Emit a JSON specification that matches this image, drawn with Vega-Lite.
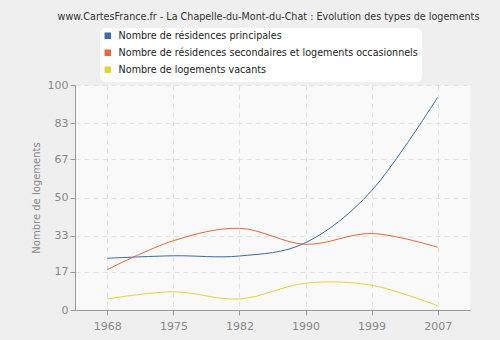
{
  "$schema": "https://vega.github.io/schema/vega-lite/v6.json",
  "autosize": "none",
  "width": 395,
  "height": 225,
  "padding": {"left": 75, "top": 85, "right": 30, "bottom": 30},
  "background": "#efefef",
  "title": {
    "text": "www.CartesFrance.fr - La Chapelle-du-Mont-du-Chat : Evolution des types de logements",
    "anchor": "middle",
    "font": "DejaVu Sans",
    "fontSize": 9.6,
    "fontWeight": "normal",
    "color": "#333333",
    "frame": "group",
    "offset": 6,
    "dx": -4
  },
  "config": {
    "view": {"fill": "#f9f9f9", "stroke": null},
    "font": "DejaVu Sans"
  },
  "data": {
    "values": [
      {"year": "1968", "serie": "Nombre de résidences principales", "value": 23},
      {"year": "1975", "serie": "Nombre de résidences principales", "value": 24.1},
      {"year": "1982", "serie": "Nombre de résidences principales", "value": 24},
      {"year": "1990", "serie": "Nombre de résidences principales", "value": 29.9},
      {"year": "1999", "serie": "Nombre de résidences principales", "value": 53},
      {"year": "2007", "serie": "Nombre de résidences principales", "value": 94.5},
      {"year": "1968", "serie": "Nombre de résidences secondaires et logements occasionnels", "value": 18},
      {"year": "1975", "serie": "Nombre de résidences secondaires et logements occasionnels", "value": 30.8},
      {"year": "1982", "serie": "Nombre de résidences secondaires et logements occasionnels", "value": 36.3},
      {"year": "1990", "serie": "Nombre de résidences secondaires et logements occasionnels", "value": 29.2},
      {"year": "1999", "serie": "Nombre de résidences secondaires et logements occasionnels", "value": 34},
      {"year": "2007", "serie": "Nombre de résidences secondaires et logements occasionnels", "value": 27.9},
      {"year": "1968", "serie": "Nombre de logements vacants", "value": 4.9},
      {"year": "1975", "serie": "Nombre de logements vacants", "value": 8.1},
      {"year": "1982", "serie": "Nombre de logements vacants", "value": 4.9},
      {"year": "1990", "serie": "Nombre de logements vacants", "value": 11.9},
      {"year": "1999", "serie": "Nombre de logements vacants", "value": 11},
      {"year": "2007", "serie": "Nombre de logements vacants", "value": 1.9}
    ]
  },
  "mark": {"type": "line", "interpolate": "cardinal", "strokeWidth": 1},
  "encoding": {
    "x": {
      "field": "year",
      "type": "ordinal",
      "scale": {"type": "point", "padding": 0.49},
      "axis": {
        "title": null,
        "labelAngle": 0,
        "labelColor": "#888888",
        "labelFontSize": 11,
        "labelPadding": 5,
        "domainColor": "#999999",
        "tickColor": "#999999",
        "tickSize": 5,
        "grid": true,
        "gridColor": "#e2e2e2",
        "gridDash": [5, 4]
      }
    },
    "y": {
      "field": "value",
      "type": "quantitative",
      "scale": {"domain": [0, 100], "nice": false},
      "axis": {
        "title": "Nombre de logements",
        "titleColor": "#888888",
        "titleFontSize": 10,
        "titleFontWeight": "normal",
        "titlePadding": 6,
        "values": [0, 17, 33, 50, 67, 83, 100],
        "labelColor": "#888888",
        "labelFontSize": 11,
        "domainColor": "#999999",
        "tickColor": "#999999",
        "tickSize": 5,
        "grid": true,
        "gridColor": "#e2e2e2",
        "gridDash": [5, 4]
      }
    },
    "color": {
      "field": "serie",
      "type": "nominal",
      "scale": {
        "domain": ["Nombre de résidences principales", "Nombre de résidences secondaires et logements occasionnels", "Nombre de logements vacants"],
        "range": ["#3d6aa1", "#e8663a", "#e1d533"]
      },
      "legend": {
        "title": null,
        "orient": "none",
        "legendX": 25,
        "legendY": -57,
        "symbolType": "square",
        "symbolSize": 12,
        "symbolStrokeWidth": 3,
        "labelFontSize": 9.6,
        "labelColor": "#222222",
        "labelFont": "DejaVu Sans",
        "labelLimit": 400,
        "labelOffset": 6,
        "rowPadding": 1,
        "fillColor": "white",
        "cornerRadius": 5,
        "padding": 3,
        "strokeColor": "white"
      }
    }
  }
}
